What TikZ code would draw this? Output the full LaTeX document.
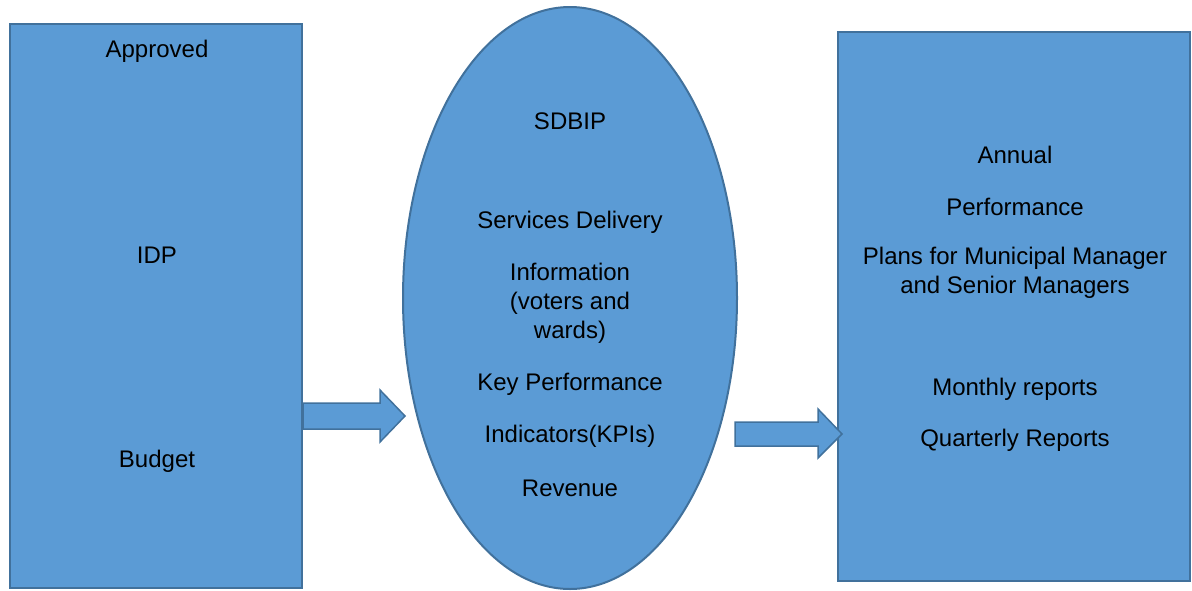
\documentclass[tikz,border=0pt]{standalone}
\usepackage{fontspec}
\setmainfont{Liberation Sans}
\usetikzlibrary{shapes.geometric}
\definecolor{boxfill}{HTML}{5B9BD5}
\definecolor{boxline}{HTML}{41719C}
\begin{document}
\begin{tikzpicture}[x=1pt,y=-1pt,
  shapebox/.style={fill=boxfill,draw=boxline,line width=2pt},
  lbl/.style={font=\fontsize{24}{29}\selectfont,align=center,inner sep=0pt,text=black,yshift=-1.5pt}]
\useasboundingbox (0,0) rectangle (1192,590);
% left box
\node[shapebox,rectangle,minimum width=292pt,minimum height=564pt,inner sep=0pt] (LB) at (156,306) {};
% ellipse
\node[shapebox,ellipse,minimum width=334pt,minimum height=582pt,inner sep=0pt] (E) at (570,298) {};
% right box
\node[shapebox,rectangle,minimum width=352pt,minimum height=549pt,inner sep=0pt] (RB) at (1014,306.5) {};
% block arrows
\path[shapebox,line width=1.5pt] (303,403) -- (380,403) -- (380,390) -- (405,416) -- (380,442) -- (380,429) -- (303,429) -- cycle;
\path[shapebox,line width=1.5pt] (735,422) -- (818,422) -- (818,409) -- (842,434) -- (818,458) -- (818,446) -- (735,446) -- cycle;
% left texts
\node[lbl] (a1) at (157,50) {Approved};
\node[lbl] (a2) at (157,254) {IDP};
\node[lbl] (a3) at (157,460) {Budget};
% ellipse texts
\node[lbl] (e1) at (570,120) {SDBIP};
\node[lbl] (e2) at (570,221) {Services Delivery};
\node[lbl] (e3) at (570,302) {Information\\(voters and\\wards)};
\node[lbl] (e4) at (570,383) {Key Performance};
\node[lbl] (e5) at (570,435) {Indicators(KPIs)};
\node[lbl] (e6) at (570,487) {Revenue};
% right texts
\node[lbl] (r1) at (1015,153) {Annual};
\node[lbl] (r2) at (1015,205) {Performance};
\node[lbl] (r3) at (1015,271) {Plans for Municipal Manager\\and Senior Managers};
\node[lbl] (r4) at (1015,388) {Monthly reports};
\node[lbl] (r5) at (1015,439) {Quarterly Reports};
\end{tikzpicture}
\end{document}
